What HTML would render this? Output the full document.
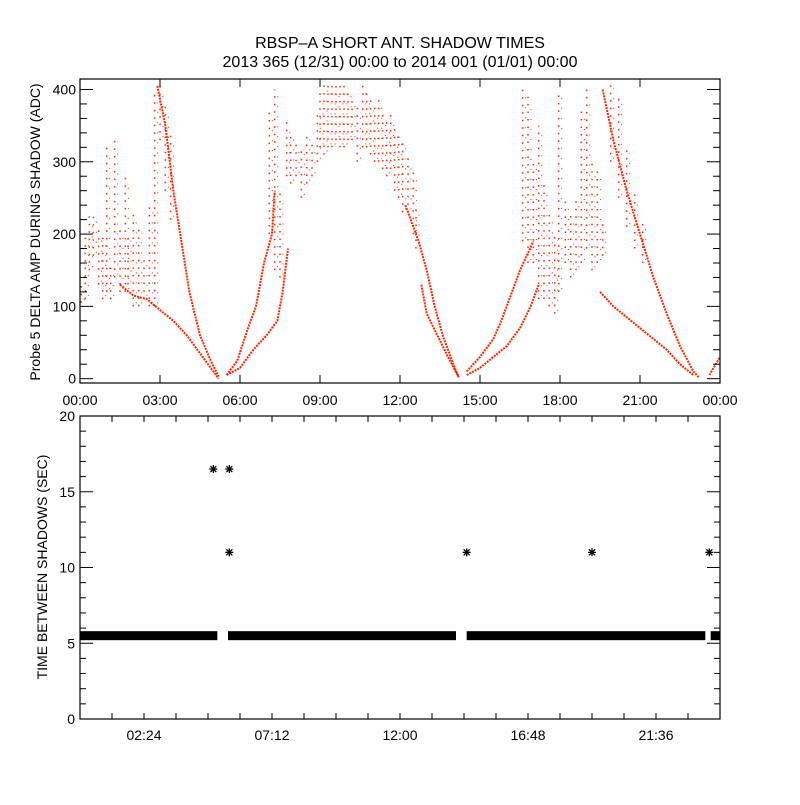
<!DOCTYPE html>
<html><head><meta charset="utf-8"><style>
html,body{margin:0;padding:0;background:#fff}
svg text{font-family:"Liberation Sans",sans-serif;fill:#000}
</style></head><body>
<svg id="chart" width="800" height="800" viewBox="0 0 800 800" xmlns="http://www.w3.org/2000/svg">
<rect width="800" height="800" fill="#fff"/>
<text x="400" y="48" font-size="16" text-anchor="middle">RBSP–A SHORT ANT. SHADOW TIMES</text>
<text x="400" y="67" font-size="16" text-anchor="middle">2013 365 (12/31) 00:00 to 2014 001 (01/01) 00:00</text>
<text transform="translate(40,232) rotate(-90)" font-size="14" text-anchor="middle">Probe 5 DELTA AMP DURING SHADOW (ADC)</text>
<text transform="translate(47,567) rotate(-90)" font-size="14" text-anchor="middle">TIME BETWEEN SHADOWS (SEC)</text>
<g id="topPanel"></g>
<g id="botPanel"></g>
</svg>
<script>
// ---- top panel data (hour, ADC) ----
const trackLowDown1H=[1.5,2,2.5,3,3.5,4,4.5,5.0,5.2];
const trackLowDown1V=[130,115,110,95,80,60,35,10,0];
const trackUpDown1H=[2.9,3.2,3.5,3.8,4.1,4.5,4.9,5.2];
const trackUpDown1V=[405,350,260,190,120,60,25,3];
const trackLowUp1H=[5.5,6,6.5,7,7.4,7.6,7.8];
const trackLowUp1V=[5,15,40,60,80,120,180];
const trackUpUp1H=[5.5,5.9,6.3,6.6,6.9,7.2,7.3];
const trackUpUp1V=[5,25,70,100,160,200,260];
const trackUpDown2H=[12.2,12.7,13,13.3,13.6,14.0,14.2];
const trackUpDown2V=[240,190,150,100,60,20,2];
const trackLowDown2H=[12.8,13,13.4,13.8,14.2];
const trackLowDown2V=[130,90,60,30,2];
const trackLowUp2H=[14.5,15,15.5,16,16.5,16.9,17.2];
const trackLowUp2V=[5,15,30,45,70,100,130];
const trackUpUp2H=[14.5,15,15.5,15.8,16.2,16.5,17];
const trackUpUp2V=[10,30,55,80,120,150,190];
const trackLowDown3H=[19.5,20,20.5,21,21.5,22,22.5,23];
const trackLowDown3V=[120,100,85,70,55,40,20,5];
const trackUpDown3H=[19.6,20,20.5,21,21.5,22,22.5,23,23.2];
const trackUpDown3V=[400,330,260,200,140,90,45,10,2];
const trackEndH=[23.6,24];
const trackEndV=[5,30];
const cloudH=[0.05,0.2,0.35,0.5,0.7,0.85,1.0,1.15,1.3,1.5,1.7,1.8,2.0,2.2,2.4,2.6,2.8,3.0,3.2,3.4,
7.1,7.3,7.5,7.75,7.9,8.1,8.3,8.5,8.7,8.9,9.0,9.15,9.3,9.45,9.6,9.75,9.9,10.05,10.2,10.4,10.6,10.75,10.9,11.05,11.2,11.35,11.5,11.65,11.8,11.95,12.1,12.3,12.5,12.6,
16.6,16.8,17.0,17.2,17.4,17.6,17.8,17.95,18.2,18.4,18.6,18.8,19.0,19.2,19.4,19.6,19.9,20.2,20.5,20.8,21.1];
const cloudLo=[105,110,150,170,130,110,120,110,140,120,120,130,100,100,110,100,100,330,260,220,
200,150,140,280,270,280,250,270,280,300,320,310,320,320,330,320,320,330,330,300,320,320,310,300,300,290,280,290,260,250,230,230,200,180,
190,160,160,110,110,100,90,120,160,140,150,160,180,150,160,170,300,250,210,180,160];
const cloudHi=[130,200,230,230,210,200,320,160,330,210,280,200,230,210,170,240,400,405,380,340,
370,400,260,360,340,330,320,340,330,370,400,410,405,410,410,405,410,400,390,380,410,400,390,380,390,370,360,370,350,340,330,310,290,240,
400,390,300,350,270,230,200,400,250,230,250,370,400,300,290,220,410,390,320,260,220];
const topYTicks=[0,100,200,300,400];
const topXLabels=["00:00","03:00","06:00","09:00","12:00","15:00","18:00","21:00","00:00"];
// ---- bottom panel data ----
const bandStart=[0,5.55,14.5,23.65];
const bandEnd=[5.15,14.1,23.45,24];
const bandValue=5.5;
const starH=[5.0,5.6,5.6,14.5,19.2,23.6];
const starV=[16.5,16.5,11,11,11,11];
const botYTicks=[0,5,10,15,20];
const botXLabels=["02:24","07:12","12:00","16:48","21:36"];
const botXLabelH=[2.4,7.2,12,16.8,21.6];

const NS="http://www.w3.org/2000/svg";
const X0=80,X1=720;
const xs=h=>X0+(X1-X0)*h/24;
const tyT=79,tyB=383,tMin=-6,tMax=414.5;
const ty=v=>tyB-(v-tMin)/(tMax-tMin)*(tyB-tyT);
const byT=416,byB=719,bMin=0,bMax=20;
const by=v=>byB-(v-bMin)/(bMax-bMin)*(byB-byT);
function mk(tag,attrs,parent){const e=document.createElementNS(NS,tag);for(const k in attrs)e.setAttribute(k,attrs[k]);parent.appendChild(e);return e;}
const topG=document.getElementById('topPanel'),botG=document.getElementById('botPanel');

const tracks=[[trackLowDown1H,trackLowDown1V],[trackUpDown1H,trackUpDown1V],[trackLowUp1H,trackLowUp1V],[trackUpUp1H,trackUpUp1V],[trackUpDown2H,trackUpDown2V],[trackLowDown2H,trackLowDown2V],[trackLowUp2H,trackLowUp2V],[trackUpUp2H,trackUpUp2V],[trackLowDown3H,trackLowDown3V],[trackUpDown3H,trackUpDown3V],[trackEndH,trackEndV]];
tracks.forEach(([H,V])=>{
  const pl=mk('polyline',{points:H.map((h,i)=>xs(h)+','+ty(V[i])).join(' '),fill:'none',stroke:'#ff2200','stroke-width':2,'stroke-dasharray':'2 1'},topG);
  
  
});
cloudH.forEach((h,i)=>{
  const l=mk('line',{x1:xs(h),x2:xs(h),y1:ty(cloudLo[i]),y2:ty(cloudHi[i]),stroke:'#ff2200','stroke-width':1.5,'stroke-dasharray':'1.5 6'},topG);
  
  
  const l2=mk('line',{x1:xs(h)+3,x2:xs(h)+3,y1:ty(cloudLo[i])-3,y2:ty(cloudHi[i])+6,stroke:'#ff2200','stroke-width':1,'stroke-dasharray':'1 9'},topG);
  
  
});
const tf=mk('rect',{x:X0,y:tyT,width:X1-X0,height:tyB-tyT,fill:'none',stroke:'#000','stroke-width':1.2},topG);


for(let v=0;v<=400;v+=20){const L=v%100===0?13:7;
  mk('line',{x1:X0,x2:X0+L,y1:ty(v),y2:ty(v),stroke:'#000'},topG);
  mk('line',{x1:X1,x2:X1-L,y1:ty(v),y2:ty(v),stroke:'#000'},topG);}
topYTicks.forEach(v=>{const t=mk('text',{x:76,y:ty(v)+5,'font-size':14,'text-anchor':'end'},topG);t.textContent=v;
  
  });
topXLabels.forEach((s,i)=>{const h=i*3;
  mk('line',{x1:xs(h),x2:xs(h),y1:tyB,y2:tyB-8,stroke:'#000'},topG);
  mk('line',{x1:xs(h),x2:xs(h),y1:tyT,y2:tyT+8,stroke:'#000'},topG);
  const t=mk('text',{x:xs(h),y:405,'font-size':14,'text-anchor':'middle'},topG);t.textContent=s;
  
  });

bandStart.forEach((s,i)=>{
  const r=mk('rect',{x:xs(s),y:by(bandValue)-4.5,width:xs(bandEnd[i])-xs(s),height:9,fill:'#000'},botG);
  
  
});
starH.forEach((h,i)=>{
  const g=mk('g',{stroke:'#000','stroke-width':1.3},botG);
  
  
  const cx=xs(h),cy=by(starV[i]);
  mk('line',{x1:cx-4,x2:cx+4,y1:cy,y2:cy},g);
  mk('line',{x1:cx,x2:cx,y1:cy-4,y2:cy+4},g);
  mk('line',{x1:cx-3,x2:cx+3,y1:cy-3,y2:cy+3},g);
  mk('line',{x1:cx-3,x2:cx+3,y1:cy+3,y2:cy-3},g);
});
const bf=mk('rect',{x:X0,y:byT,width:X1-X0,height:byB-byT,fill:'none',stroke:'#000','stroke-width':1.2},botG);


for(let v=0;v<=20;v++){const L=v%5===0?13:6;
  mk('line',{x1:X0,x2:X0+L,y1:by(v),y2:by(v),stroke:'#000'},botG);
  mk('line',{x1:X1,x2:X1-L,y1:by(v),y2:by(v),stroke:'#000'},botG);}
botYTicks.forEach(v=>{const t=mk('text',{x:75,y:by(v)+5,'font-size':14,'text-anchor':'end'},botG);t.textContent=v;
  
  });
for(let h=1.2;h<24;h+=1.2){
  mk('line',{x1:xs(h),x2:xs(h),y1:byB,y2:byB-6,stroke:'#000'},botG);
  mk('line',{x1:xs(h),x2:xs(h),y1:byT,y2:byT+6,stroke:'#000'},botG);}
botXLabels.forEach((s,i)=>{const t=mk('text',{x:xs(botXLabelH[i]),y:740,'font-size':14,'text-anchor':'middle'},botG);t.textContent=s;
  
  });
</script>
</body></html>
